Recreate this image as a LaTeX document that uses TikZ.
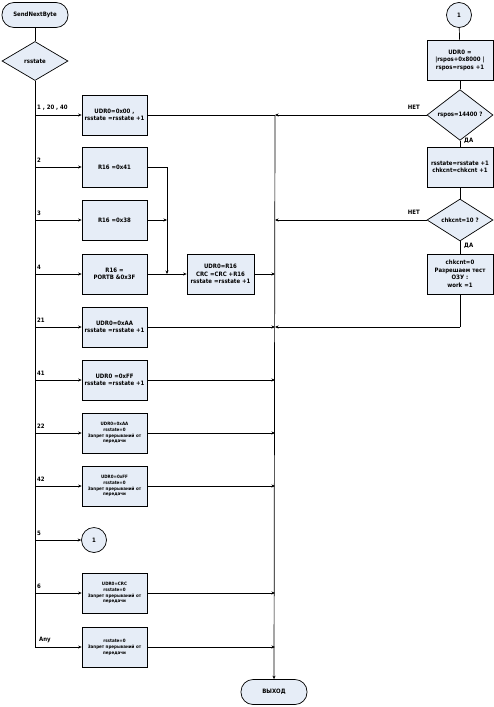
\documentclass[tikz,border=0pt]{standalone}
\usepackage{fontspec}
\setmainfont{DejaVu Sans Condensed}
\usetikzlibrary{shapes.geometric,arrows.meta}
\definecolor{boxfill}{RGB}{230,237,247}
\tikzset{
  base/.style={draw=black,line width=0.7pt,fill=boxfill,align=center,inner sep=1pt,font=\fontsize{6}{7.5}\selectfont\bfseries},
  opbox/.style={base,rectangle,minimum width=65pt,minimum height=40pt,text width=63pt},
  smallbox/.style={opbox,font=\fontsize{4.5}{5.8}\selectfont\bfseries},
  term/.style={base,rectangle,rounded corners=12pt,minimum width=66pt,minimum height=25pt},
  decis/.style={base,diamond,minimum width=66pt,minimum height=39pt,inner sep=0pt},
  conn/.style={base,circle,minimum size=25pt,inner sep=0pt},
  lbl/.style={font=\fontsize{6}{7}\selectfont\bfseries,inner sep=1pt},
  ln/.style={line width=0.7pt},
  arr/.style={ln,-{Stealth[length=3.5pt,width=3pt]}}
}
\begin{document}
\begin{tikzpicture}[x=1pt,y=-1pt]
\useasboundingbox[fill=white] (0,0) rectangle (494,707);
% left column
\node[term] (start) at (35,15) {SendNextByte};
\node[decis] (rs) at (35,61) {rsstate};
\node[opbox] (r1) at (114.5,115) {UDR0=0x00 ,\\ rsstate =rsstate +1};
\node[opbox] (r2) at (114.5,167) {R16 =0x41};
\node[opbox] (r3) at (114.5,220) {R16 =0x38};
\node[opbox] (r4) at (114.5,274) {R16 =\\ PORTB \&0x3F};
\node[opbox,minimum width=67pt,text width=65pt] (mid) at (220.5,274) {UDR0=R16\\ CRC =CRC +R16\\ rsstate =rsstate +1};
\node[opbox] (r21) at (114.5,327) {UDR0=0xAA\\ rsstate =rsstate +1};
\node[opbox] (r41) at (114.5,380) {UDR0 =0xFF\\ rsstate =rsstate +1};
\node[smallbox] (r22) at (114.5,433) {UDR0=0xAA\\ rsstate=0\\ Запрет прерываний от\\ передачи};
\node[smallbox] (r42) at (114.5,486) {UDR0=0xFF\\ rsstate=0\\ Запрет прерываний от\\ передачи};
\node[conn] (c5) at (94,540) {1};
\node[smallbox] (r6) at (114.5,593) {UDR0=CRC\\ rsstate=0\\ Запрет прерываний от\\ передачи};
\node[smallbox] (rany) at (114.5,647) {rsstate=0\\ Запрет прерываний от\\ передачи};
\node[term] (exit) at (274,692) {ВЫХОД};
% right column
\node[conn] (c1) at (459,15) {1};
\node[opbox,minimum width=66pt] (b1) at (460,60) {UDR0 =\\ |rspos+0x8000 |\\ rspos=rspos +1};
\node[decis] (d1) at (460,115) {rspos=14400 ?};
\node[opbox,minimum width=66pt] (b2) at (460,167) {rsstate=rsstate +1\\ chkcnt=chkcnt +1};
\node[decis] (d2) at (460,220) {chkcnt=10 ?};
\node[opbox,minimum width=66pt] (b3) at (460,274) {chkcnt=0\\ Разрешаем тест\\ ОЗУ :\\ work =1};
% coordinates
\coordinate (lb) at (35,647);
\coordinate (j2) at (167,167);
\coordinate (j3) at (167,220);
\coordinate (j4) at (167,274);
\coordinate (bt) at (275,115);
\coordinate (bmid) at (275,274);
\coordinate (b220) at (275,220);
\coordinate (b327) at (275,327);
\coordinate (b380) at (275,380);
\coordinate (b433) at (275,433);
\coordinate (b486) at (275,486);
\coordinate (b593) at (275,593);
\coordinate (b647) at (275,647);
\coordinate (rc) at (460,327);
% left bus
\draw[ln] (start) -- (rs);
\draw[ln] (rs.south) -- (lb);
\draw[arr] (lb) -- (rany.west);
\foreach \n/\yy in {r1/115,r2/167,r3/220,r4/274,r21/327,r41/380,r22/433,r42/486,r6/593}
  \draw[arr] (35,\yy) -- (\n.west);
\draw[arr] (35,540) -- (c5.west);
% labels on left
\node[lbl,anchor=south west] at (36,112) {1 , 20 , 40};
\node[lbl,anchor=south west] at (36,164) {2};
\node[lbl,anchor=south west] at (36,217) {3};
\node[lbl,anchor=south west] at (36,271) {4};
\node[lbl,anchor=south west] at (36,324) {21};
\node[lbl,anchor=south west] at (36,377) {41};
\node[lbl,anchor=south west] at (36,430) {22};
\node[lbl,anchor=south west] at (36,483) {42};
\node[lbl,anchor=south west] at (36,537) {5};
\node[lbl,anchor=south west] at (36,590) {6};
\node[lbl,anchor=south west] at (38,644) {Any};
% middle merge
\draw[ln] (r2.east) -- (j2);
\draw[arr] (j2) -- (j4);
\draw[arr] (r3.east) -- (j3);
\draw[arr] (r4.east) -- (mid.west);
\draw[arr] (mid.east) -- (bmid);
% right bus
\draw[ln] (r1.east) -- (bt);
\draw[arr] (bt) -- (exit.north);
\draw[arr] (r21.east) -- (b327);
\draw[arr] (r41.east) -- (b380);
\draw[arr] (r22.east) -- (b433);
\draw[arr] (r42.east) -- (b486);
\draw[arr] (r6.east) -- (b593);
\draw[arr] (rany.east) -- (b647);
% right column
\draw[ln] (c1) -- (b1);
\draw[ln] (b1) -- (d1);
\draw[ln] (d1) -- (b2);
\draw[ln] (b2) -- (d2);
\draw[ln] (d2) -- (b3);
\draw[ln] (b3.south) -- (rc);
\draw[arr] (rc) -- (b327);
\draw[arr] (d1.west) -- (bt);
\draw[arr] (d2.west) -- (b220);
\node[lbl,anchor=south east] at (421,111) {НЕТ};
\node[lbl,anchor=south east] at (421,216) {НЕТ};
\node[lbl,anchor=west] at (463,141) {ДА};
\node[lbl,anchor=west] at (463,246) {ДА};
\end{tikzpicture}
\end{document}
